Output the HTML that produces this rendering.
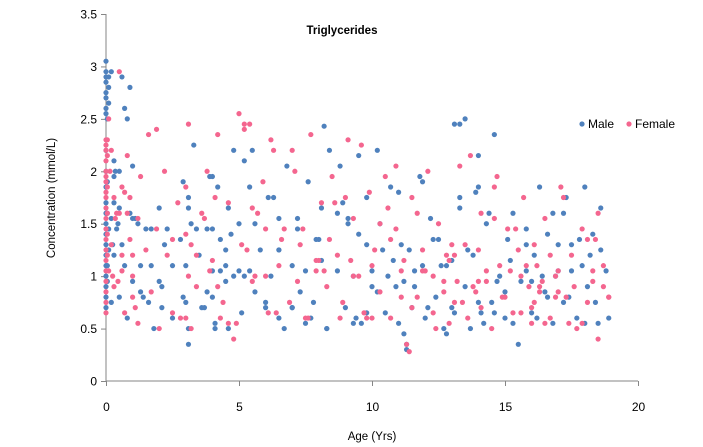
<!DOCTYPE html>
<html><head><meta charset="utf-8"><style>
body{margin:0;background:#fff;}
svg{display:block;font-family:"Liberation Sans",sans-serif;}
</style></head><body>
<svg id="chart" width="703" height="447">
<text x="342" y="34" font-size="11.5" font-weight="bold" text-anchor="middle">Triglycerides</text>
<g id="grid"></g>
<g id="pts"></g>
<text x="372" y="440" font-size="11.5" text-anchor="middle">Age (Yrs)</text>
<text transform="translate(55,198) rotate(-90)" font-size="11.5" text-anchor="middle">Concentration (mmol/L)</text>
<g>
<g><circle cx="582" cy="124" r="2.6" fill="#4f81bd"/><text x="588" y="128" font-size="12">Male</text></g>
<g><circle cx="629" cy="124" r="2.6" fill="#f4668f"/><text x="635" y="128" font-size="12">Female</text></g>
</g>
</svg>
<script>
const xTicks=[0,5,10,15,20];
const yTicks=[0,0.5,1,1.5,2,2.5,3,3.5];
const yTickLabels=["0","0.5","1","1.5","2","2.5","3","3.5"];
const maleAge=[0,0,0,0,0,0,0,0,0.05,0,0,0,0,0,0,0,0,0,0,0,0,0,0,0.1,0.1,0.1,0.2,0.3,0.3,0.4,0.5,0.5,0.5,0.6,0.7,0.8,0.9,0.7,0.8,1.0,1.0,1.2,1.3,1.4,1.5,1.6,1.7,1.8,2.0,2.1,2.3,2.5,2.8,2.9,3.0,3.0,3.1,3.1,3.2,3.3,3.5,3.6,3.8,4.0,4.0,4.1,4.2,4.3,4.5,4.6,4.7,4.8,5.0,5.1,5.2,5.4,5.5,5.6,5.8,6.0,6.2,6.3,6.5,6.7,6.8,7.0,7.2,7.3,7.5,7.6,7.8,8.0,8.1,8.3,8.2,8.7,8.8,9.0,9.1,9.3,9.5,9.6,9.8,10.0,10.2,10.3,10.5,10.7,10.8,11.0,11.1,11.2,11.3,11.3,11.5,11.6,11.8,12.0,12.2,12.4,12.6,12.8,13.0,13.1,13.3,13.5,13.5,13.8,14.0,14.1,14.3,14.5,14.6,14.8,15.0,15.1,15.3,15.5,15.6,15.8,16.0,16.1,16.3,16.5,16.6,16.8,17.0,17.2,17.3,17.5,17.7,17.9,18.0,18.1,18.3,18.5,18.6,18.8,18.9,12.5,9.8,7.0,4.5,2.5,15.8,16.8,13.3,14.0,11.9,6.5,5.4,3.9,
0.3,0.35,0.2,0.3,0.45,0.6,0.9,1.0,1.1,1.3,1.7,2.0,2.1,2.2,2.9,3.1,3.1,3.4,3.7,3.8,4.0,4.0,4.1,4.3,4.5,4.6,4.8,5.0,5.2,5.6,6.0,6.1,6.5,6.5,7.0,7.2,7.5,7.7,7.9,8.1,8.3,8.4,8.7,8.9,9.1,9.3,9.4,9.5,9.8,10.0,10.2,10.4,10.6,10.9,11.0,11.2,11.4,11.6,11.9,12.1,12.3,12.7,12.8,13.0,13.1,13.3,13.6,13.7,13.9,14.0,14.2,14.4,14.6,14.7,15.0,15.2,15.3,15.8,16.0,16.2,16.4,16.6,16.9,17.0,17.2,17.4,17.5,17.8,18.0,18.2,18.4,18.6,0.05,0.05,0.05,0.05,0.1,0.1,0.2,0.25];
const maleConc=[3.05,2.95,2.9,2.85,2.75,2.7,2.6,2.55,2.5,2.2,2.0,1.85,1.7,1.6,1.5,1.4,1.3,1.2,1.1,1.0,0.9,0.8,0.7,2.9,1.45,1.25,2.95,1.7,2.1,1.45,2.0,1.65,0.8,2.9,2.6,2.5,2.8,1.1,0.6,1.55,2.05,1.5,1.1,0.8,1.45,0.75,1.1,0.5,0.95,0.7,1.45,0.6,1.35,1.9,1.1,0.75,0.5,0.35,1.5,2.25,1.2,0.7,0.85,1.95,1.45,0.55,1.85,1.05,0.95,0.5,1.4,2.2,1.05,0.65,2.1,1.85,2.2,1.5,1.25,0.7,1.0,1.75,1.55,0.5,2.05,1.1,1.55,0.85,0.55,1.9,0.75,1.35,1.15,0.5,2.43,1.6,2.05,0.7,1.5,1.0,2.15,0.55,1.3,0.9,2.2,1.5,0.65,1.85,1.15,0.55,1.3,0.45,0.35,0.3,0.7,1.05,1.95,0.6,1.55,0.8,1.1,0.45,0.7,2.45,1.65,2.5,0.9,1.2,2.15,0.65,1.5,0.75,2.35,1.0,0.6,1.35,1.6,0.35,0.95,1.45,0.65,1.2,1.85,0.85,1.4,0.55,1.05,0.75,1.75,1.3,0.6,1.1,1.85,0.9,1.4,0.55,1.65,1.05,0.6,1.35,1.75,0.7,1.25,1.1,1.05,1.6,2.45,1.85,1.9,1.25,1.05,1.95,
1.95,2.0,1.55,1.2,1.5,1.3,1.6,0.95,1.55,0.85,1.45,1.65,0.9,1.3,0.8,1.75,1.65,1.45,0.7,1.45,0.8,1.05,0.5,1.35,1.1,1.65,1.0,1.5,1.0,0.85,0.75,1.75,1.25,0.6,0.7,1.45,1.05,0.6,1.35,1.65,0.5,2.2,1.05,1.7,1.55,0.55,0.6,1.4,0.65,1.05,0.85,1.25,1.0,0.9,1.8,0.95,1.25,0.9,1.1,0.7,1.35,0.5,1.1,1.15,0.65,1.75,1.25,0.5,1.8,0.75,0.55,1.6,0.65,0.95,0.85,1.15,0.55,1.3,0.95,0.6,1.0,0.8,1.0,1.3,1.6,0.8,1.05,1.35,0.55,1.2,0.75,1.25,1.9,1.6,1.1,0.95,2.65,2.8,0.75,1.3];
const femaleAge=[0,0,0,0,0,0,0,0,0,0,0,0,0,0,0,0,0,0,0,0,0.05,0.05,0.1,0.2,0.3,0.4,0.5,0.6,0.6,0.7,0.8,0.9,1.0,1.1,1.3,1.5,1.7,1.9,2.0,2.2,2.3,2.5,2.7,3.0,3.1,3.2,3.4,3.6,3.8,4.0,4.2,4.4,4.6,4.8,5.0,5.2,5.3,5.5,5.7,5.9,6.1,6.3,6.5,6.7,6.9,7.1,7.3,7.5,7.7,7.9,8.1,8.3,8.5,8.7,8.9,9.1,9.3,9.5,9.7,9.9,10.1,10.3,10.5,10.7,10.9,11.1,11.3,11.4,11.5,11.7,11.9,12.1,12.3,12.5,12.7,12.9,13.1,13.3,13.5,13.7,13.9,14.1,14.3,14.5,14.7,14.9,15.1,15.3,15.5,15.7,15.9,16.0,16.2,16.3,16.5,16.7,16.9,17.1,17.3,17.5,17.7,17.9,18.1,18.3,18.5,18.7,18.9,16.1,16.4,15.6,14.0,12.0,10.0,8.0,6.0,3.0,1.2,0.3,0.15,5.4,9.3,13.0,17.0,18.4,12.8,14.6,
0.05,0.05,0.05,0.05,0.1,0.2,0.25,0.35,0.45,0.5,0.6,0.7,0.8,0.9,1.0,1.0,1.2,1.6,1.9,2.5,2.8,3.0,3.1,3.2,3.4,3.7,3.9,4.1,4.2,4.3,4.6,4.9,5.1,5.2,5.5,5.6,6.0,6.2,6.4,6.6,7.0,7.2,7.4,7.6,7.9,8.2,8.4,8.6,8.8,9.0,9.2,9.6,9.8,10.0,10.3,10.6,10.7,10.9,11.1,11.2,11.5,11.7,11.9,12.3,12.4,12.7,12.9,13.1,13.2,13.4,13.6,13.8,14.0,14.1,14.3,14.6,14.8,15.0,15.2,15.4,15.6,15.8,16.0,16.1,16.3,16.5,16.7,16.9,17.0,17.2,17.4,17.6,17.9,18.1,18.3,18.5,18.7,18.9];
const femaleConc=[2.3,2.25,2.2,2.1,2.0,1.95,1.9,1.8,1.75,1.65,1.55,1.45,1.35,1.25,1.15,1.05,0.95,0.85,0.75,0.65,2.3,1.6,2.5,1.3,0.9,1.6,2.95,1.85,1.2,0.65,1.6,1.35,1.0,0.7,1.95,1.25,0.85,2.4,0.5,2.0,1.2,0.65,1.7,0.6,2.45,1.3,0.9,1.6,2.0,1.15,2.35,0.75,1.7,0.4,2.55,2.45,1.25,0.95,1.6,1.9,0.65,2.2,1.1,1.45,0.75,2.0,1.3,0.6,2.35,1.05,1.7,0.9,1.95,1.2,0.75,2.3,1.55,1.0,0.65,1.8,1.25,0.85,1.95,0.6,1.45,1.05,0.35,0.28,1.75,0.8,1.25,2.0,0.65,1.5,0.95,1.15,0.75,2.05,1.3,2.15,0.85,1.6,1.05,0.5,1.95,0.8,1.45,0.65,1.25,1.75,0.9,0.7,1.1,0.85,1.55,0.6,1.0,1.85,0.8,1.2,0.5,1.45,0.75,1.05,0.4,0.9,0.8,0.75,0.95,1.0,0.95,1.05,1.1,1.15,1.0,1.4,1.55,1.75,2.0,2.45,1.0,1.3,0.85,1.35,1.2,1.55,
2.15,1.85,1.4,1.2,1.05,2.2,1.0,1.55,0.95,1.6,1.05,1.8,2.15,1.75,1.2,0.8,0.55,2.35,1.45,1.35,0.6,1.85,1.0,0.5,1.2,1.55,1.05,1.75,0.9,0.6,0.55,0.55,1.3,2.4,1.65,1.0,1.45,2.3,0.65,1.35,2.2,0.95,1.45,0.6,1.15,1.05,1.35,1.7,0.6,1.75,1.15,2.25,0.6,0.6,1.5,1.65,1.35,2.05,0.8,1.15,0.7,1.6,1.05,1.0,0.5,0.85,0.55,1.2,0.95,0.75,0.6,0.9,1.25,0.7,0.95,1.85,1.1,0.8,1.05,1.45,0.65,1.1,0.55,1.3,0.9,0.55,1.2,0.8,1.05,1.75,0.55,0.9,0.55,1.35,0.95,1.6,1.1,0.8];
const X0=106,X1=638,Y0=381,Y1=14,XMAX=20,YMAX=3.5;
function xs(v){return X0+(X1-X0)*v/XMAX;}
function ys(v){return Y0-(Y0-Y1)*v/YMAX;}
const NS="http://www.w3.org/2000/svg";
const g=document.getElementById('grid'),p=document.getElementById('pts');
function mk(tag,a,parent){const e=document.createElementNS(NS,tag);for(const k in a)e.setAttribute(k,a[k]);parent.appendChild(e);return e;}
const ya=mk('line',{x1:X0,y1:Y1,x2:X0,y2:Y0,stroke:'#868686'},g);


const xa=mk('line',{x1:X0,y1:Y0,x2:X1,y2:Y0,stroke:'#868686'},g);


yTicks.forEach((t,i)=>{const y=ys(t)+0.5;
mk('line',{x1:X0-5,y1:y,x2:X0,y2:y,stroke:'#868686'},g);
const tx=mk('text',{x:X0-9,y:y+4,'font-size':12,'text-anchor':'end'},g);tx.textContent=yTickLabels[i];

});
xTicks.forEach(t=>{const x=xs(t)+0.5;
mk('line',{x1:x,y1:Y0,x2:x,y2:Y0+5,stroke:'#868686'},g);
const tx=mk('text',{x:x,y:Y0+30,'font-size':12,'text-anchor':'middle'},g);tx.textContent=t;

});
maleAge.forEach((a,i)=>{const c=mk('circle',{cx:xs(a),cy:ys(maleConc[i]),r:2.6,fill:'#4f81bd'},p);

});
femaleAge.forEach((a,i)=>{const c=mk('circle',{cx:xs(a),cy:ys(femaleConc[i]),r:2.6,fill:'#f4668f'},p);

});
</script>
</body></html>
